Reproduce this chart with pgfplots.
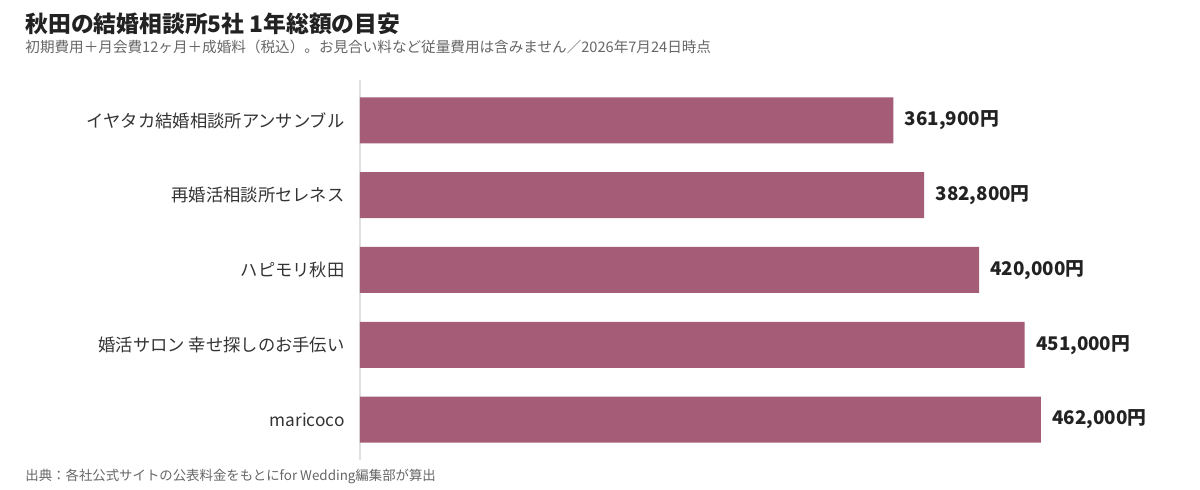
\documentclass[border=0pt]{standalone}
\usepackage{fontspec}
\setmainfont{Noto Sans CJK JP}
\usepackage{pgfplots}
\pgfplotsset{compat=1.18}
\definecolor{barcol}{HTML}{A55C76}
\definecolor{titlecol}{HTML}{222222}
\definecolor{subcol}{HTML}{666666}
\definecolor{labcol}{HTML}{333333}

\begin{document}
\begin{tikzpicture}[x=1pt,y=1pt]
\useasboundingbox (0,0) rectangle (600,245);
\node[anchor=base west, inner sep=0pt, text=titlecol, font=\fontsize{11.4}{13}\selectfont\bfseries]
  at (12.5,228.5) {秋田の結婚相談所5社 1年総額の目安};
\node[anchor=base west, inner sep=0pt, text=subcol, font=\fontsize{7.3}{8}\selectfont]
  at (12.5,218.5) {初期費用＋月会費12ヶ月＋成婚料（税込）。お見合い料など従量費用は含みません／2026年7月24日時点};
\node[anchor=base west, inner sep=0pt, text=subcol, font=\fontsize{6.7}{8}\selectfont]
  at (12.5,4.5) {出典：各社公式サイトの公表料金をもとにfor Wedding編集部が算出};

\begin{axis}[
    at={(180pt,15pt)}, anchor=south west,
    scale only axis,
    width=412.7pt, height=190pt,
    xbar, bar width=23pt,
    xmin=0, xmax=560000,
    ymin=-0.54, ymax=4.54,
    y dir=reverse,
    axis x line=none,
    axis y line=left,
    y axis line style={draw=black!12, line width=0.6pt, -},
    ytick={0,1,2,3,4},
    yticklabels={イヤタカ結婚相談所アンサンブル, 再婚活相談所セレネス, ハピモリ秋田, 婚活サロン 幸せ探しのお手伝い, maricoco},
    major tick length=0pt,
    yticklabel style={font=\fontsize{8.65}{10}\selectfont, text=labcol, inner sep=0pt, xshift=-7.5pt},
    nodes near coords={\pgfmathprintnumber[fixed, precision=0, 1000 sep={,}, assume math mode=true]{\pgfplotspointmeta}円},
    every node near coord/.append style={font=\fontsize{9.4}{11}\selectfont\bfseries, text=titlecol, anchor=west, inner sep=0pt, xshift=5.5pt},
    point meta=x,
]
\addplot[fill=barcol, draw=none] coordinates {
    (361900,0)
    (382800,1)
    (420000,2)
    (451000,3)
    (462000,4)
};
\end{axis}
\end{tikzpicture}
\end{document}
